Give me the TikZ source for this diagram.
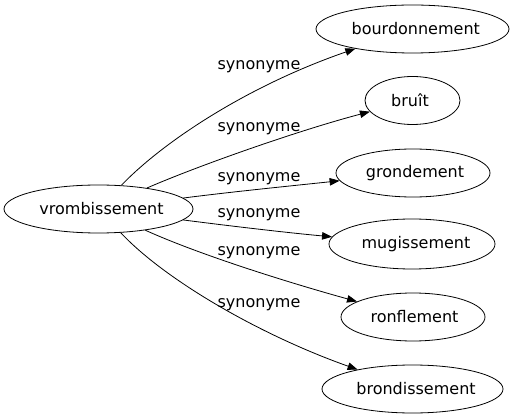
\documentclass[tikz,border=0pt]{standalone}
\usepackage{fontspec}
\setmainfont{DejaVu Sans}
\usetikzlibrary{arrows.meta,shapes.geometric}
\newcommand{\shifttext}[2]{\makebox[\width][l]{\hspace*{#1}#2}}
\begin{document}
\begin{tikzpicture}[x=1pt,y=-1pt,
  every node/.style={font=\fontsize{16}{19}\selectfont},
  term/.style={draw, ellipse, inner sep=0pt, line width=0.8pt},
  rel/.style={inner sep=0pt, anchor=base},
  edge/.style={line width=0.8pt, -{Triangle[length=10pt,width=7.5pt]}}]
\useasboundingbox (0,0) rectangle (513,419);
\node[term, minimum width=189pt, minimum height=48pt] (v) at (98.5,209) {\shifttext{6pt}{vrombissement}};
\node[term, minimum width=193pt, minimum height=48pt] (t1) at (412.5,29) {\shifttext{6.5pt}{bourdonnement}};
\node[term, minimum width=95pt, minimum height=48pt] (t2) at (412.5,100.5) {\shifttext{-5pt}{bruît}};
\node[term, minimum width=154pt, minimum height=48pt] (t3) at (413,173) {\shifttext{4pt}{grondement}};
\node[term, minimum width=166pt, minimum height=50pt] (t4) at (412,244) {\shifttext{8pt}{mugissement}};
\node[term, minimum width=144pt, minimum height=48pt] (t5) at (413,317) {\shifttext{3pt}{ronflement}};
\node[term, minimum width=181pt, minimum height=48pt] (t6) at (412.5,389) {\shifttext{7pt}{brondissement}};
\node[rel] (l1) at (259,70) {synonyme};
\node[rel] (l2) at (259,132) {synonyme};
\node[rel] (l3) at (259,182) {synonyme};
\node[rel] (l4) at (259,218) {synonyme};
\node[rel] (l5) at (259,255) {synonyme};
\node[rel] (l6) at (259,307) {synonyme};
\draw[edge] (v) .. controls (165,140) and (250,85) .. (t1);
\draw[edge] (v) .. controls (200,165) and (300,130) .. (t2);
\draw[edge] (v) .. controls (230,192) and (290,186) .. (t3);
\draw[edge] (v) .. controls (230,226) and (290,233) .. (t4);
\draw[edge] (v) .. controls (200,255) and (290,283) .. (t5);
\draw[edge] (v) .. controls (165,280) and (260,335) .. (t6);
\end{tikzpicture}
\end{document}
